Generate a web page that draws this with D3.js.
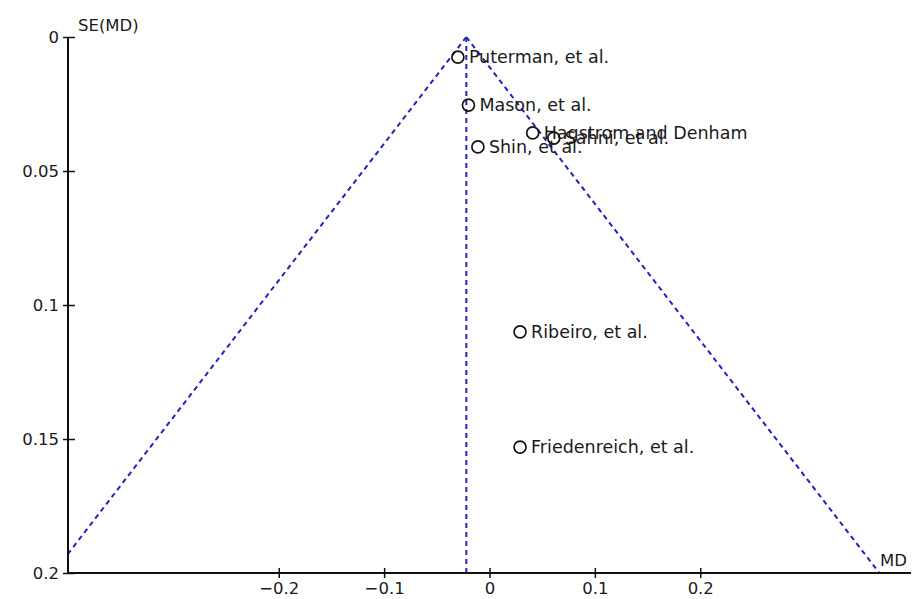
<!DOCTYPE html>
<html><head><meta charset="utf-8">
<script src="https://cdn.jsdelivr.net/npm/d3@7"></script>
<style>body{margin:0;background:#fff}svg{display:block}text{font-family:"DejaVu Sans",sans-serif;fill:#1a1a1a}</style>
</head><body>
<svg id="c" width="914" height="599"></svg>
<script>
const studies = ["Puterman, et al.","Mason, et al.","Hagstrom and Denham","Sahni, et al.","Shin, et al.","Ribeiro, et al.","Friedenreich, et al."];
const md = [-0.030,-0.020,0.041,0.061,-0.011,0.029,0.029];
const se = [0.0075,0.0254,0.0358,0.0377,0.041,0.110,0.153];
const pooled = -0.022;
const xTicks = [-0.2,-0.1,0,0.1,0.2];
const yTicks = [0,0.05,0.1,0.15,0.2];
const xDomain = [-0.4,0.4];
const yDomain = [0,0.2];

const svg = d3.select("#c");
const x = d3.scaleLinear().domain(xDomain).range([68,911]);
const y = d3.scaleLinear().domain(yDomain).range([37,573]);
const blue = "#2222c0";

// funnel
const seLeft = Math.min(yDomain[1], (pooled - xDomain[0]) / 1.96);
const seRight = Math.min(yDomain[1], (xDomain[1] - pooled) / 1.96);
const dashed = (x1,y1,x2,y2)=>svg.append("line").attr("x1",x1).attr("y1",y1).attr("x2",x2).attr("y2",y2)
  .attr("stroke",blue).attr("stroke-width",2).attr("stroke-dasharray","5,4");
dashed(x(pooled),y(0),x(pooled-1.96*seLeft),y(seLeft));
dashed(x(pooled),y(0),x(pooled+1.96*seRight),y(seRight));
dashed(x(pooled),y(yDomain[1]),x(pooled),y(0));

// axes
const gx = svg.append("g").attr("transform",`translate(0,${y(yDomain[1])})`)
  .call(d3.axisBottom(x).tickValues(xTicks).tickSize(5).tickFormat(d=>d===0?"0":d3.format("")(d).replace("-","\u2212")));
gx.select(".domain").attr("d",`M${x.range()[0]},0H${x.range()[1]}`).attr("stroke","#111").attr("stroke-width",2);
gx.selectAll(".tick line").attr("y1",-5).attr("stroke","#111").attr("stroke-width",1.5);
gx.selectAll(".tick text").attr("font-size",16.5).attr("dy","0.95em").attr("y",5);

const gy = svg.append("g").attr("transform",`translate(${x(xDomain[0])},0)`)
  .call(d3.axisLeft(y).tickValues(yTicks).tickSize(5).tickFormat(d=>d===0?"0":String(d)));
gy.select(".domain").attr("d",`M0,${y.range()[0]}V${y.range()[1]}`).attr("stroke","#111").attr("stroke-width",2);
gy.selectAll(".tick line").attr("x2",7).attr("x1",-5).attr("stroke","#111").attr("stroke-width",1.5);
gy.selectAll(".tick text").attr("font-size",16.5).attr("x",-9);

svg.append("text").attr("x",x(xDomain[0])+10).attr("y",y(0)-6).attr("font-size",16.5).text("SE(MD)");
svg.append("text").attr("x",907).attr("y",y(yDomain[1])-7).attr("text-anchor","end").attr("font-size",16.5).text("MD");

// points
const idx = d3.range(studies.length);
svg.selectAll("circle.pt").data(idx).join("circle").attr("class","pt")
  .attr("cx",i=>x(md[i])).attr("cy",i=>y(se[i])).attr("r",6)
  .attr("fill","none").attr("stroke","#111").attr("stroke-width",1.7);
svg.selectAll("text.lb").data(idx).join("text").attr("class","lb")
  .attr("x",i=>x(md[i])+11).attr("y",i=>y(se[i])).attr("dy","0.36em").attr("font-size",17.5)
  .text(i=>studies[i]);
</script>
</body></html>
